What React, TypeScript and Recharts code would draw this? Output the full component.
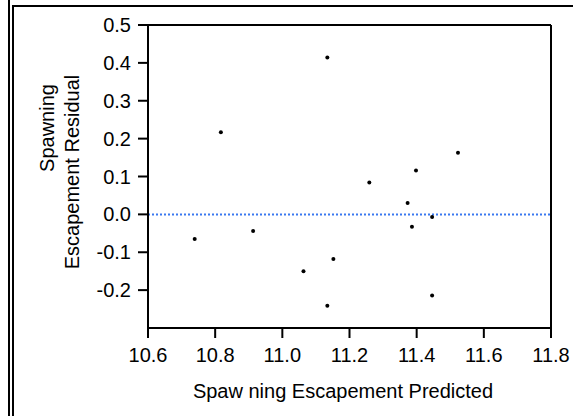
import { ScatterChart, Scatter, XAxis, YAxis, ReferenceLine, Label } from "recharts";

const predicted = [10.739, 10.913, 11.259, 11.373, 11.446, 11.386, 11.152, 11.063, 11.446, 11.134, 10.817, 11.134, 11.523, 11.398];
const residual = [-0.065, -0.044, 0.084, 0.03, -0.007, -0.033, -0.118, -0.15, -0.214, -0.241, 0.217, 0.414, 0.163, 0.116];
const xTicks = [10.6, 10.8, 11.0, 11.2, 11.4, 11.6, 11.8];
const yTicks = [0.5, 0.4, 0.3, 0.2, 0.1, 0.0, -0.1, -0.2];

const points = predicted.map((x, i) => ({ x, y: residual[i] }));

const font = '"Liberation Sans", Arial, sans-serif';

const Dot = (props: any) => <circle cx={props.cx} cy={props.cy} r={2} fill="#000" />;

const line = (style: React.CSSProperties) => (
  <div style={{ position: "absolute", background: "#000", ...style }} />
);

export default function App() {
  return (
    <div style={{ position: "absolute", left: 0, top: 0, width: 573, height: 416, background: "#fff", fontFamily: font }}>
      {line({ left: 8, top: 0, width: 2, height: 416 })}
      {line({ left: 12, top: 5, width: 2, height: 411 })}
      {line({ left: 12, top: 5, width: 561, height: 2 })}
      <ScatterChart width={573} height={416} margin={{ top: 25, right: 22, bottom: 0, left: 0 }} style={{ position: "absolute", left: 0, top: 0 }}>
        <XAxis
          type="number"
          dataKey="x"
          domain={[10.6, 11.8]}
          ticks={xTicks}
          allowDataOverflow
          height={88}
          tickFormatter={(v: number) => v.toFixed(1)}
          tick={{ fill: "#000", fontSize: 20, fontFamily: font }}
          tickSize={10}
          tickMargin={10}
          axisLine={{ stroke: "#000", strokeWidth: 2 }}
          tickLine={{ stroke: "#000", strokeWidth: 2 }}
          label={
            <Label
              content={() => (
                <text x={343} y={398} textAnchor="middle" fontSize={20} fontFamily={font} fill="#000">
                  Spaw ning Escapement Predicted
                </text>
              )}
            />
          }
        />
        <YAxis
          type="number"
          dataKey="y"
          domain={[-0.3, 0.5]}
          ticks={yTicks}
          allowDataOverflow
          width={148}
          tickFormatter={(v: number) => v.toFixed(1)}
          tick={{ fill: "#000", fontSize: 20, fontFamily: font }}
          tickSize={10}
          tickMargin={7}
          axisLine={{ stroke: "#000", strokeWidth: 2 }}
          tickLine={{ stroke: "#000", strokeWidth: 2 }}
          label={
            <Label
              content={() => (
                <g fontSize={20} fontFamily={font} fill="#000">
                  <text x={0} y={0} textAnchor="middle" transform="translate(54,128) rotate(-90)">
                    Spawning
                  </text>
                  <text x={0} y={0} textAnchor="middle" transform="translate(79,172) rotate(-90)">
                    Escapement Residual
                  </text>
                </g>
              )}
            />
          }
        />
        <ReferenceLine y={0.5} stroke="#000" strokeWidth={2} />
        <ReferenceLine x={11.8} stroke="#000" strokeWidth={2} />
        <ReferenceLine y={0} stroke="#3a78f0" strokeWidth={2} strokeDasharray="2 2" />
        <Scatter data={points} shape={<Dot />} isAnimationActive={false} />
      </ScatterChart>
    </div>
  );
}
